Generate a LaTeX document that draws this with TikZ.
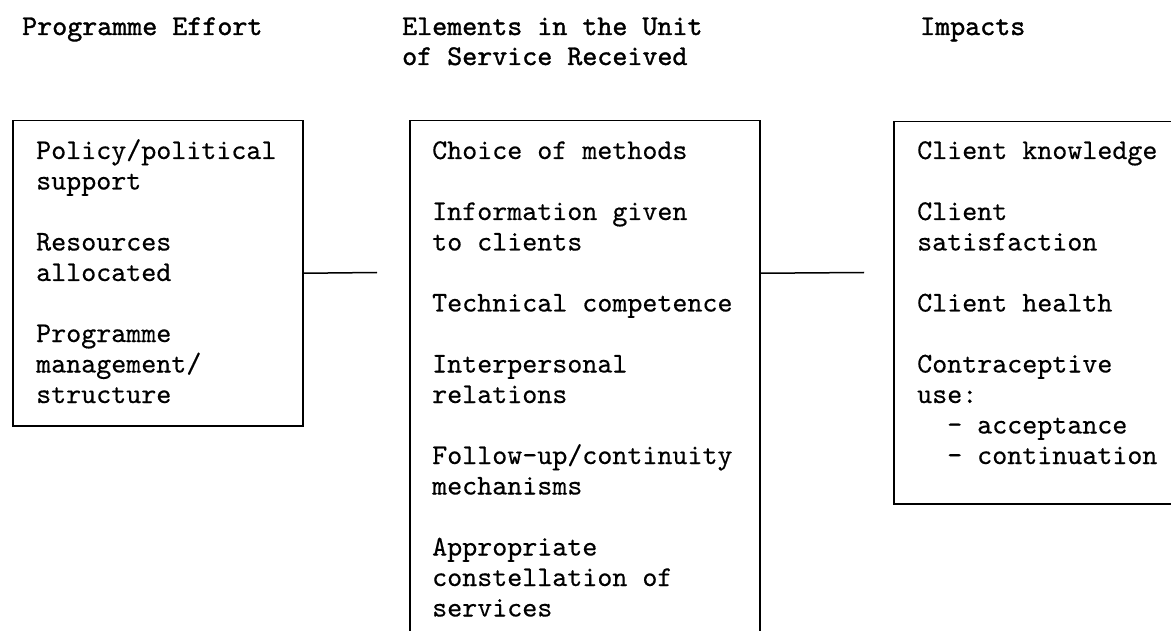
\documentclass[tikz,border=0pt]{standalone}
\usepackage{fontspec}
\newfontfamily\twfam[FakeBold=0.4]{lmmono10-regular.otf}
\newfontfamily\twbfam[FakeBold=1.2]{lmmono10-regular.otf}
\newcommand\twbody{\twfam\fontsize{28.6}{30}\selectfont}
\newcommand\twhead{\twbfam\fontsize{28.6}{30}\selectfont}
\begin{document}
\begin{tikzpicture}[x=1pt,y=-1pt,
  ln/.style={anchor=base west, inner sep=0pt, font=\twbody},
  hd/.style={anchor=base west, inner sep=0pt, font=\twhead},
  box/.style={draw, line width=1.5pt, inner sep=0pt, anchor=north west},
  link/.style={line width=1.5pt}]
\useasboundingbox (0,0) rectangle (1171,631);
\clip (0,0) rectangle (1171,631);
% headers
\node[hd] (h1) at (22,35) {Programme Effort};
\node[hd] (h2a) at (402,35) {Elements in the Unit};
\node[hd] (h2b) at (402,65) {of Service Received};
\node[hd] (h3) at (920,35) {Impacts};
% boxes
\node[box, minimum width=290pt, minimum height=305pt] (L) at (12,120) {};
\node[box, minimum width=350pt, minimum height=540pt] (M) at (409,120) {};
\node[box, minimum width=300pt, minimum height=382pt] (R) at (893,121) {};
% connectors
\coordinate (cL) at (377,272.5);
\coordinate (cR) at (864,272.5);
\draw[link] (L.east) -- (cL);
\draw[link] (M.east |- L.east) -- (cR);
% left box text
\node[ln] (l1) at (36,159) {Policy/political};
\node[ln] (l2) at (36,189.5) {support};
\node[ln] (l3) at (36,250.5) {Resources};
\node[ln] (l4) at (36,281) {allocated};
\node[ln] (l5) at (36,342) {Programme};
\node[ln] (l6) at (36,372.5) {management/};
\node[ln] (l7) at (36,403) {structure};
% middle box text
\node[ln] (m1) at (432,159) {Choice of methods};
\node[ln] (m2) at (432,220) {Information given};
\node[ln] (m3) at (432,250.5) {to clients};
\node[ln] (m4) at (432,311.5) {Technical competence};
\node[ln] (m5) at (432,372.5) {Interpersonal};
\node[ln] (m6) at (432,403) {relations};
\node[ln] (m7) at (432,464) {Follow-up/continuity};
\node[ln] (m8) at (432,494.5) {mechanisms};
\node[ln] (m9) at (432,555.5) {Appropriate};
\node[ln] (m10) at (432,586) {constellation of};
\node[ln] (m11) at (432,616.5) {services};
% right box text
\node[ln] (r1) at (917,159) {Client knowledge};
\node[ln] (r2) at (917,220) {Client};
\node[ln] (r3) at (917,250.5) {satisfaction};
\node[ln] (r4) at (917,311.5) {Client health};
\node[ln] (r5) at (917,372.5) {Contraceptive};
\node[ln] (r6) at (917,403) {use:};
\node[ln] (r7) at (947,433.5) {- acceptance};
\node[ln] (r8) at (947,464) {- continuation};
\end{tikzpicture}
\end{document}
